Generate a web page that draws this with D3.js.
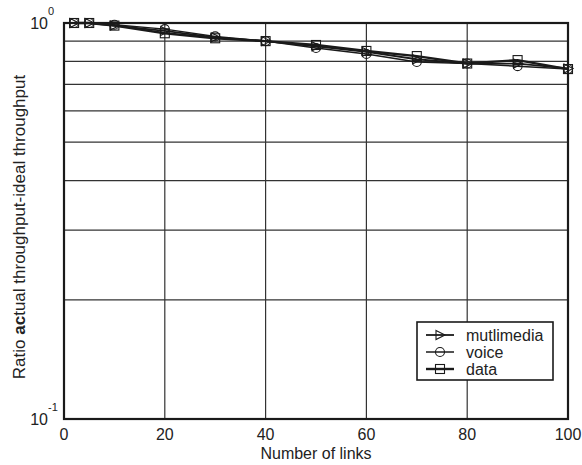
<!DOCTYPE html>
<html>
<head>
<meta charset="utf-8">
<script src="https://d3js.org/d3.v7.min.js"></script>
<style>
  body { margin: 0; background: #fff; }
  svg text { font-family: "Liberation Sans", Arial, Helvetica, sans-serif; fill: #222; }
</style>
</head>
<body>
<div id="content"></div>
<script>
const width = 582;
const height = 465;

// data
const links = [2, 5, 10, 20, 30, 40, 50, 60, 70, 80, 90, 100];
const multimedia = [1.0, 1.0, 0.985, 0.955, 0.92, 0.9, 0.873, 0.845, 0.81, 0.79, 0.79, 0.768];
const voice = [1.0, 1.0, 0.99, 0.965, 0.925, 0.9, 0.865, 0.835, 0.797, 0.79, 0.778, 0.765];
const data = [1.0, 1.0, 0.985, 0.942, 0.915, 0.9, 0.88, 0.85, 0.825, 0.79, 0.806, 0.765];

const xTicks = [0, 20, 40, 60, 80, 100];
const yGrid = [0.2, 0.3, 0.4, 0.5, 0.6, 0.7, 0.8, 0.9];
const seriesNames = ["mutlimedia", "voice", "data"];

const margin = {top: 23, right: 14, bottom: 46, left: 64};

var svg = d3.select("#content").append("svg")
    .attr("width", width)
    .attr("height", height);

var x = d3.scaleLinear().domain([0, 100]).range([margin.left, width - margin.right]);
var y = d3.scaleLog().domain([0.1, 1]).range([height - margin.bottom, margin.top]);

// grid lines
svg.append("g").selectAll("line").data(yGrid).enter().append("line")
    .attr("x1", x(0)).attr("x2", x(100))
    .attr("y1", d => y(d)).attr("y2", d => y(d))
    .attr("stroke", "#333").attr("stroke-width", 1.2);

svg.append("g").selectAll("line").data(xTicks.slice(1, -1)).enter().append("line")
    .attr("x1", d => x(d)).attr("x2", d => x(d))
    .attr("y1", y(0.1)).attr("y2", y(1))
    .attr("stroke", "#333").attr("stroke-width", 1.2);

// frame
svg.append("rect")
    .attr("x", x(0)).attr("y", y(1))
    .attr("width", x(100) - x(0)).attr("height", y(0.1) - y(1))
    .attr("fill", "none").attr("stroke", "#1a1a1a").attr("stroke-width", 2.2);

// x tick labels
svg.append("g").selectAll("text").data(xTicks).enter().append("text")
    .attr("x", d => x(d)).attr("y", y(0.1) + 21)
    .attr("text-anchor", "middle")
    .attr("font-size", 16)
    .text(d => d);

svg.append("text")
    .attr("x", x(50)).attr("y", height - 6)
    .attr("text-anchor", "middle")
    .attr("font-size", 16)
    .text("Number of links");

// y tick labels 10^0 and 10^-1
function powLabel(v, exp) {
    var t = svg.append("text")
        .attr("x", x(0) - 16).attr("y", y(v) + 6)
        .attr("text-anchor", "end")
        .attr("font-size", 16);
    t.append("tspan").text("10");
    var s = svg.append("text")
        .attr("x", x(0) - 16).attr("y", y(v) - 8)
        .attr("text-anchor", "start")
        .attr("font-size", 11)
        .text(exp);
}
powLabel(1, "0");
powLabel(0.1, "-1");

var yl = svg.append("text")
    .attr("transform", `translate(25, ${(y(1) + y(0.1)) / 2 + 6}) rotate(-90)`)
    .attr("text-anchor", "middle")
    .attr("font-size", 17);
yl.append("tspan").text("Ratio ");
yl.append("tspan").attr("font-weight", "bold").text("ac");
yl.append("tspan").text("tual throughput-ideal throughput");

// markers
function marker(g, type, cx, cy) {
    if (type == "tri") {
        g.append("path")
            .attr("d", `M${cx - 4},${cy - 4.5}L${cx + 5},${cy}L${cx - 4},${cy + 4.5}Z`)
            .attr("fill", "none").attr("stroke", "#1a1a1a").attr("stroke-width", 1.1);
    } else if (type == "circ") {
        g.append("circle").attr("cx", cx).attr("cy", cy).attr("r", 4.5)
            .attr("fill", "none").attr("stroke", "#1a1a1a").attr("stroke-width", 1.1);
    } else {
        g.append("rect").attr("x", cx - 4.5).attr("y", cy - 4.5)
            .attr("width", 9).attr("height", 9)
            .attr("fill", "none").attr("stroke", "#1a1a1a").attr("stroke-width", 1.1);
    }
}

var series = [
    {name: seriesNames[0], values: multimedia, type: "tri", w: 1.8},
    {name: seriesNames[1], values: voice, type: "circ", w: 1.5},
    {name: seriesNames[2], values: data, type: "sq", w: 2.4}
];

var line = d3.line().x(d => x(d[0])).y(d => y(d[1]));

series.forEach(s => {
    var pts = links.map((l, i) => [l, s.values[i]]);
    var g = svg.append("g");
    g.append("path").datum(pts)
        .attr("d", line)
        .attr("fill", "none").attr("stroke", "#1a1a1a").attr("stroke-width", s.w);
    pts.forEach(p => marker(g, s.type, x(p[0]), y(p[1])));
});

// legend
var lg = svg.append("g");
lg.append("rect")
    .attr("x", 417).attr("y", 322).attr("width", 136).attr("height", 58)
    .attr("fill", "#fff").attr("stroke", "#1a1a1a").attr("stroke-width", 1.6);

series.forEach((s, i) => {
    var ly = 335 + i * 17;
    lg.append("line").attr("x1", 426).attr("x2", 454).attr("y1", ly).attr("y2", ly)
        .attr("stroke", "#1a1a1a").attr("stroke-width", s.w);
    marker(lg, s.type, 440, ly);
    lg.append("text").attr("x", 466).attr("y", ly + 5.5)
        .attr("font-size", 16).text(s.name);
});
</script>
</body>
</html>
